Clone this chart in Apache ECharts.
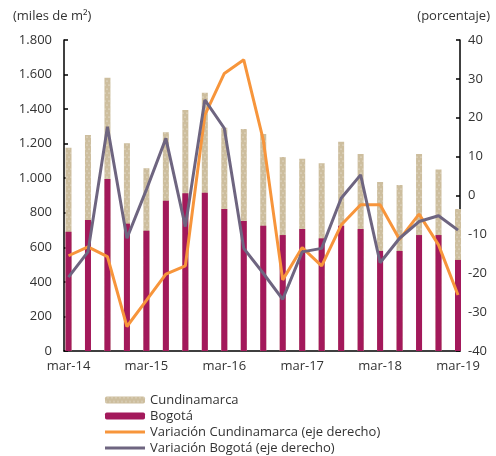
<!DOCTYPE html>
<html>
<head>
<meta charset="utf-8">
<script src="https://cdn.jsdelivr.net/npm/echarts@6/dist/echarts.min.js"></script>
<style>
  html, body { margin: 0; padding: 0; background: #fff; }
  #chart { width: 496px; height: 456px; }
</style>
</head>
<body>
<div id="chart"></div>
<script>
// quarters, mar-14 .. mar-19
var categories = ['mar-14', 'jun-14', 'sep-14', 'dic-14', 'mar-15', 'jun-15', 'sep-15', 'dic-15',
  'mar-16', 'jun-16', 'sep-16', 'dic-16', 'mar-17', 'jun-17', 'sep-17', 'dic-17',
  'mar-18', 'jun-18', 'sep-18', 'dic-18', 'mar-19'];

// miles de m2 (Cundinamarca bar drawn behind Bogotá)
var cundinamarca = [1177, 1250, 1582, 1202, 1057, 1266, 1395, 1494, 1292, 1285, 1256,
  1123, 1113, 1086, 1211, 1140, 978, 961, 1140, 1051, 822];
var bogota = [690, 758, 995, 737, 696, 870, 913, 916, 822, 752, 725,
  671, 706, 652, 725, 706, 579, 579, 671, 671, 527];

// porcentaje (eje derecho)
var varCundinamarca = [-15.5, -13.2, -15.7, -33.7, -27, -20.2, -18.1, 20.7, 31.4, 34.9, 14.3,
  -21.7, -13.4, -18.1, -7.6, -2.4, -2.4, -11.3, -4.8, -12.7, -25.6];
var varBogota = [-21, -14.5, 17.7, -11, 1.5, 14.7, -8, 24.6, 17.3, -13.6, -20,
  -26.7, -14.5, -13.6, -0.7, 5.3, -17.3, -11, -6.7, -5.2, -8.9];

var font = 'Open Sans';
var txt = '#333';
var legendText = { fontSize: 13, color: txt, fontFamily: font, lineHeight: 14 };

var chart = echarts.init(document.getElementById('chart'));
chart.setOption({
  animation: false,
  textStyle: { fontFamily: font },
  title: [
    { text: '(miles de m²)', left: 8, top: 5, textStyle: { fontSize: 13, fontWeight: 'normal', color: txt, fontFamily: font } },
    { text: '(porcentaje)', right: 1, top: 5, textStyle: { fontSize: 13, fontWeight: 'normal', color: txt, fontFamily: font } }
  ],
  legend: [
    {
      orient: 'vertical',
      left: 105,
      top: 393,
      padding: 0,
      itemWidth: 40,
      itemHeight: 7,
      itemGap: 2,
      textStyle: legendText,
      data: ['Cundinamarca', 'Bogotá']
    },
    {
      orient: 'vertical',
      left: 105,
      top: 425,
      padding: 0,
      itemWidth: 40,
      itemHeight: 3,
      itemGap: 2,
      icon: 'rect',
      textStyle: legendText,
      data: ['Variación Cundinamarca (eje derecho)', 'Variación Bogotá (eje derecho)']
    }
  ],
  grid: [
    { left: 68.5, right: 38, top: 40, bottom: 105 },
    { left: 64, right: 36, top: 40, bottom: 105 }
  ],
  xAxis: [
    {
      type: 'category',
      gridIndex: 0,
      data: categories,
      boundaryGap: false,
      axisLine: { show: false },
      axisTick: { show: true, inside: true, interval: 3, length: 4, lineStyle: { color: '#000', width: 1.5 } },
      axisLabel: { interval: 3, fontSize: 13, color: txt, margin: 9 }
    },
    {
      type: 'value',
      gridIndex: 1,
      min: 0,
      max: 1,
      axisLine: { show: true, lineStyle: { color: '#000', width: 1.5 } },
      axisTick: { show: false },
      axisLabel: { show: false },
      splitLine: { show: false }
    }
  ],
  yAxis: [
    {
      type: 'value',
      gridIndex: 0,
      min: 0,
      max: 1800,
      interval: 200,
      offset: 4.5,
      axisLine: { show: true, lineStyle: { color: '#000', width: 1.5 } },
      axisTick: { show: true, inside: true, length: 4, lineStyle: { color: '#000', width: 1.5 } },
      splitLine: { show: false },
      axisLabel: {
        fontSize: 13, color: txt, margin: 12,
        formatter: function (v) { return String(v).replace(/\B(?=(\d{3})+(?!\d))/g, '.'); }
      }
    },
    {
      type: 'value',
      gridIndex: 0,
      position: 'right',
      min: -40,
      max: 40,
      interval: 10,
      offset: 2,
      axisLine: { show: true, lineStyle: { color: '#000', width: 1.5 } },
      axisTick: { show: true, inside: true, length: 4, lineStyle: { color: '#000', width: 1.5 } },
      splitLine: { show: false },
      axisLabel: { fontSize: 13, color: txt, margin: 8 }
    },
    {
      type: 'value',
      gridIndex: 1,
      show: false,
      min: 0,
      max: 1
    }
  ],
  series: [
    {
      name: 'Cundinamarca',
      type: 'bar',
      barWidth: 6,
      data: cundinamarca,
      itemStyle: {
        color: '#CDBE9E',
        decal: {
          symbol: 'circle',
          symbolSize: 0.6,
          color: 'rgba(255,255,255,0.85)',
          dashArrayX: [[2, 2], [0, 2, 2, 0]],
          dashArrayY: [2, 2],
          rotation: 0
        }
      }
    },
    {
      name: 'Bogotá',
      type: 'bar',
      barWidth: 6,
      barGap: '-100%',
      data: bogota,
      itemStyle: { color: '#A3195B' }
    },
    {
      name: 'Variación Cundinamarca (eje derecho)',
      type: 'line',
      yAxisIndex: 1,
      symbol: 'none',
      data: varCundinamarca,
      lineStyle: { color: '#F7953B', width: 3 },
      itemStyle: { color: '#F7953B' }
    },
    {
      name: 'Variación Bogotá (eje derecho)',
      type: 'line',
      yAxisIndex: 1,
      symbol: 'none',
      data: varBogota,
      lineStyle: { color: '#6E6580', width: 3 },
      itemStyle: { color: '#6E6580' }
    }
  ]
});
</script>
</body>
</html>
